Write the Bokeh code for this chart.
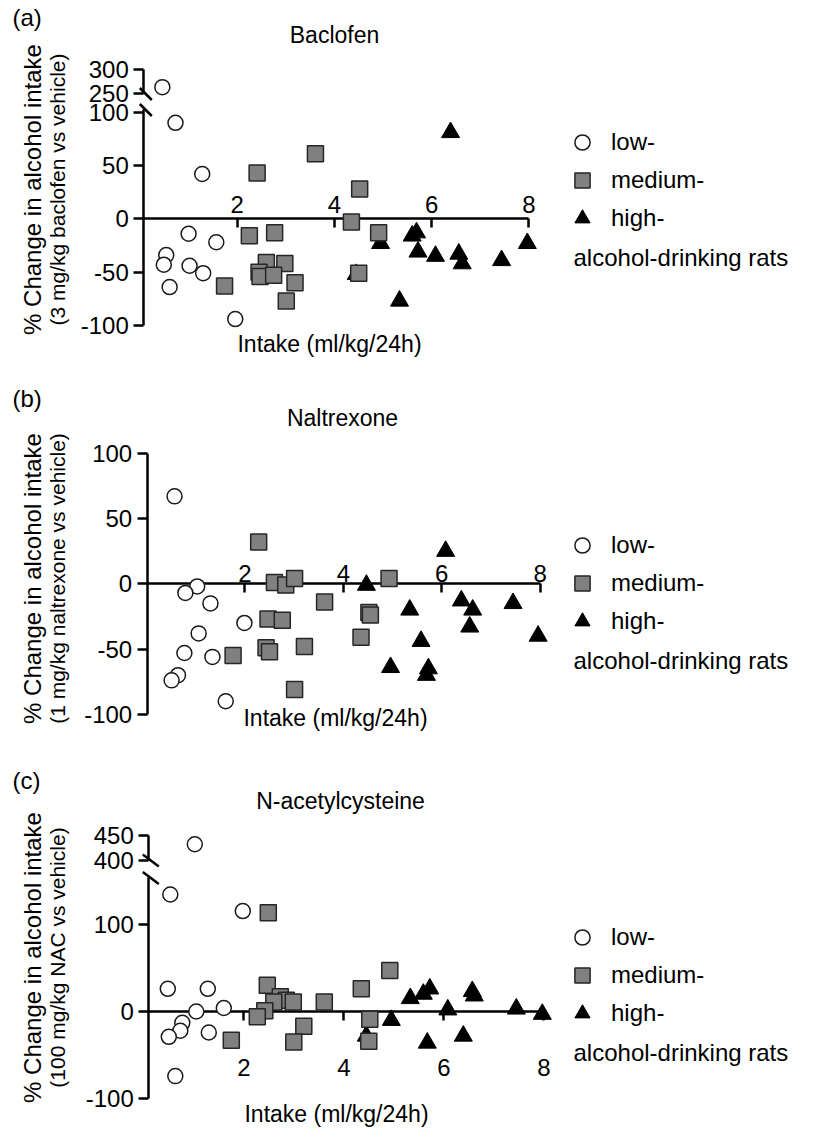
from bokeh.plotting import figure
from bokeh.models import (LinearAxis, FixedTicker, Range1d, Legend, LegendItem,
                          Label, ColumnDataSource)
from bokeh.layouts import column
from bokeh.embed import file_html
from bokeh.resources import INLINE

# ---------------- data (x = intake ml/kg/24h, y = % change) ----------------
# (a) Baclofen
bac_low_x = [0.46, 0.73, 1.28, 1.00, 1.57, 0.54, 0.49, 1.02, 1.30, 0.61, 1.96]
bac_low_y = [264, 90, 42, -14, -22, -34, -43, -44, -51, -64, -94]
bac_med_x = [2.41, 3.61, 2.25, 2.77, 2.60, 2.98, 2.45, 2.47, 2.75, 3.19, 1.74, 3.01,
             4.35, 4.52, 4.91, 4.50]
bac_med_y = [43, 61, -16, -13, -41, -42, -50, -54, -53, -60, -63, -77, -3, 28, -13, -51]
bac_high_x = [6.39, 4.95, 5.60, 5.69, 5.72, 6.08, 6.56, 6.63, 7.44, 7.97, 5.34, 4.45]
bac_high_y = [81, -23, -16, -13, -31, -35, -33, -42, -39, -23, -77, -52]

# (b) Naltrexone
nal_low_x = [0.57, 1.03, 0.79, 1.30, 1.99, 1.06, 0.77, 1.34, 0.64, 0.51, 1.61]
nal_low_y = [67, -2, -7, -15, -30, -38, -53, -56, -70, -74, -90]
nal_med_x = [2.28, 2.60, 2.83, 3.01, 3.62, 2.47, 2.76, 2.43, 2.50, 3.21, 1.76, 3.01,
             4.93, 4.52, 4.55, 4.36]
nal_med_y = [32, 1, -1, 4, -14, -27, -28, -49, -52, -48, -55, -81, 4, -22, -24, -41]
nal_high_x = [6.08, 4.47, 5.35, 6.40, 6.63, 6.57, 7.45, 7.96, 5.58, 4.96, 5.73, 5.69]
nal_high_y = [25, -1, -20, -13, -20, -33, -15, -40, -44, -64, -65, -70]

# (c) N-acetylcysteine
nac_low_x = [1.02, 0.53, 1.98, 0.48, 1.28, 1.05, 1.60, 0.77, 0.73, 0.50, 1.30, 0.63]
nac_low_y = [433, 134, 115, 26, 26, 0, 4, -13, -22, -29, -24, -74]
nac_med_x = [2.49, 2.47, 2.73, 2.85, 2.60, 2.42, 2.27, 2.99, 3.61, 3.20, 3.00, 1.75,
             4.92, 4.35, 4.52, 4.50]
nac_med_y = [113, 30, 17, 13, 11, 1, -6, 11, 11, -17, -35, -33, 47, 26, -9, -34]
nac_high_x = [5.33, 5.59, 5.72, 6.57, 6.61, 6.08, 7.45, 7.97, 4.95, 4.45, 6.39, 5.67]
nac_high_y = [15, 20, 26, 23, 18, 2, 3, -3, -10, -28, -28, -36]

x_ticks = [2, 4, 6, 8]
y_ticks_ab = [-100, -50, 0, 50, 100]
y_ticks_c = [-100, 0, 100]
legend_labels = ["low-", "medium-", "high-"]
legend_footer = "alcohol-drinking rats"
x_title = "Intake (ml/kg/24h)"
y_title = "% Change in alcohol intake"

FONT = "Liberation Sans"
W = 819


def disp(v, brk):
    """map a value onto the broken y axis"""
    if brk is None or v <= brk["low_top"]:
        return v
    return brk["d0"] + (v - brk["v0"]) * brk["s"]


def style_axis(ax):
    ax.axis_line_width = 2.5
    ax.major_tick_line_width = 2.5
    ax.minor_tick_line_color = None
    ax.minor_tick_out = 0
    ax.minor_tick_in = 0
    ax.major_label_text_font = FONT
    ax.major_label_text_font_size = "24px"
    ax.major_label_text_color = "black"
    ax.level = "underlay"


def make_panel(c):
    H, top = c["H"], c["top"]
    xr = Range1d((0 - c["x0"]) / c["xpx"], (W - c["x0"]) / c["xpx"])
    yr = Range1d((c["y0"] - (top + H)) / c["ypx"], (c["y0"] - top) / c["ypx"])
    p = figure(width=W, height=H, output_backend="svg", toolbar_location=None,
               x_axis_type=None, y_axis_type=None, x_range=xr, y_range=yr,
               min_border=0, outline_line_color=None)
    brk = c["brk"]
    ax_x = c["yaxis_x"]

    # lower y axis
    low_top = brk["low_top"] if brk else 100
    yt = c["yticks"]
    ya = LinearAxis(fixed_location=ax_x, bounds=(-100, low_top),
                    ticker=FixedTicker(ticks=yt),
                    major_label_overrides={t: str(t) for t in yt})
    style_axis(ya)
    ya.major_tick_out = 10
    ya.major_tick_in = 0
    ya.major_label_standoff = 5
    p.add_layout(ya, "left")

    if brk:
        up_vals = brk["ticks"]
        up_disp = [int(round(disp(v, brk))) for v in up_vals]
        yu = LinearAxis(fixed_location=ax_x, bounds=(up_disp[0], up_disp[-1]),
                        ticker=FixedTicker(ticks=up_disp),
                        major_label_overrides={d: str(v) for d, v in zip(up_disp, up_vals)})
        style_axis(yu)
        yu.major_tick_out = 10
        yu.major_tick_in = 0
        yu.major_label_standoff = 5
        p.add_layout(yu, "left")
        # break marks
        dx = brk["sl_dx"] / c["xpx"]
        dy = brk["sl_dy"] / c["ypx"]
        cy = [up_disp[0], low_top]
        p.segment(x0=[ax_x - dx + 2 / c["xpx"]] * 2, y0=[v + dy for v in cy],
                  x1=[ax_x + dx + 2 / c["xpx"]] * 2, y1=[v - dy for v in cy],
                  line_color="black", line_width=2.5)

    # x axis crossing at y = 0
    xa = LinearAxis(fixed_location=0, bounds=(ax_x, 8), ticker=FixedTicker(ticks=x_ticks))
    style_axis(xa)
    if c["xside"] == "above":
        xa.major_tick_out = 0
        xa.major_tick_in = 9
    else:
        xa.major_tick_out = 9
        xa.major_tick_in = 0
    xa.major_label_standoff = c["xstand"]
    p.add_layout(xa, c["xside"])

    # data
    hx, hy = c["high"]
    mx, my = c["med"]
    lx, ly = c["low"]
    r_high = p.scatter(x="x", y="y", source=ColumnDataSource(
        dict(x=hx, y=[disp(v, brk) for v in hy])), marker="triangle", size=18,
        fill_color="black", line_color="black", line_width=1)
    r_med = p.scatter(x="x", y="y", source=ColumnDataSource(
        dict(x=mx, y=[disp(v, brk) for v in my])), marker="square", size=16,
        fill_color="#808080", line_color="#262626", line_width=1.5)
    r_low = p.scatter(x="x", y="y", source=ColumnDataSource(
        dict(x=lx, y=[disp(v, brk) for v in ly])), marker="circle", size=15,
        fill_color="white", line_color="#1a1a1a", line_width=1.5)

    # legend
    leg_top = c["leg_y"] - 19
    leg_cx = 582
    leg = Legend(items=[LegendItem(label=legend_labels[0], renderers=[r_low]),
                        LegendItem(label=legend_labels[1], renderers=[r_med]),
                        LegendItem(label=legend_labels[2], renderers=[r_high])],
                 location=(leg_cx - 19, (top + H) - (leg_top + 114)),
                 glyph_width=38, glyph_height=38, label_height=38, spacing=0,
                 padding=0, margin=0, label_standoff=10,
                 label_text_font=FONT, label_text_font_size="24px",
                 label_text_color="black",
                 border_line_color=None, background_fill_alpha=0)
    p.add_layout(leg)

    def lbl(text, px, py, size="23px", align="center", angle=0.0):
        p.add_layout(Label(x=px, y=(top + H) - py, x_units="screen",
                           y_units="screen", text=text, text_font=FONT,
                           text_font_size=size, text_align=align,
                           text_baseline="middle", angle=angle, text_color="black"))

    lbl(legend_footer, 573, c["leg_y"] + 3 * 38.3, size="24px", align="left")
    lbl(c["tag"], 12, c["tag_y"], size="24px", align="left")
    lbl(c["title"], c["title_x"], c["title_y"])
    lbl(y_title, 32, c["ylab_y"], size="24px", angle=1.5707963)
    lbl(c["ysub"], 57, c["ylab_y"], size="21px", angle=1.5707963)
    lbl(x_title, c["xlab_x"], c["xlab_y"])
    return p


cfg_a = dict(top=0, H=360, x0=139.5, xpx=48.6, y0=218.3, ypx=1.0667, yaxis_x=0.078,
             xside="above", xstand=6, yticks=y_ticks_ab,
             brk=dict(low_top=102, v0=250, d0=117, s=0.46, ticks=[250, 300],
                      sl_dx=6, sl_dy=6),
             low=(bac_low_x, bac_low_y), med=(bac_med_x, bac_med_y),
             high=(bac_high_x, bac_high_y),
             leg_y=141.7, tag="(a)", tag_y=17, title="Baclofen", title_x=334, title_y=34,
             ysub="(3 mg/kg baclofen vs vehicle)", ylab_y=189, xlab_x=329, xlab_y=343)
cfg_b = dict(top=360, H=390, x0=146, xpx=49.2, y0=583.3, ypx=1.305, yaxis_x=0.014,
             xside="above", xstand=2, brk=None, yticks=y_ticks_ab,
             low=(nal_low_x, nal_low_y), med=(nal_med_x, nal_med_y),
             high=(nal_high_x, nal_high_y),
             leg_y=545, tag="(b)", tag_y=398, title="Naltrexone", title_x=342, title_y=417,
             ysub="(1 mg/kg naltrexone vs vehicle)", ylab_y=578, xlab_x=335, xlab_y=717)
cfg_c = dict(top=750, H=378, x0=143.3, xpx=50.0, y0=1011, ypx=0.8733, yaxis_x=0.1,
             xside="below", xstand=38, yticks=y_ticks_c,
             brk=dict(low_top=153, v0=400, d0=173, s=0.56, ticks=[400, 450],
                      sl_dx=8, sl_dy=6),
             low=(nac_low_x, nac_low_y), med=(nac_med_x, nac_med_y),
             high=(nac_high_x, nac_high_y),
             leg_y=937, tag="(c)", tag_y=780, title="N-acetylcysteine", title_x=340,
             title_y=800, ysub="(100 mg/kg NAC vs vehicle)", ylab_y=957, xlab_x=336,
             xlab_y=1113)

layout = column(make_panel(cfg_a), make_panel(cfg_b), make_panel(cfg_c), spacing=0)
open("out.html", "w").write(file_html(layout, INLINE))
